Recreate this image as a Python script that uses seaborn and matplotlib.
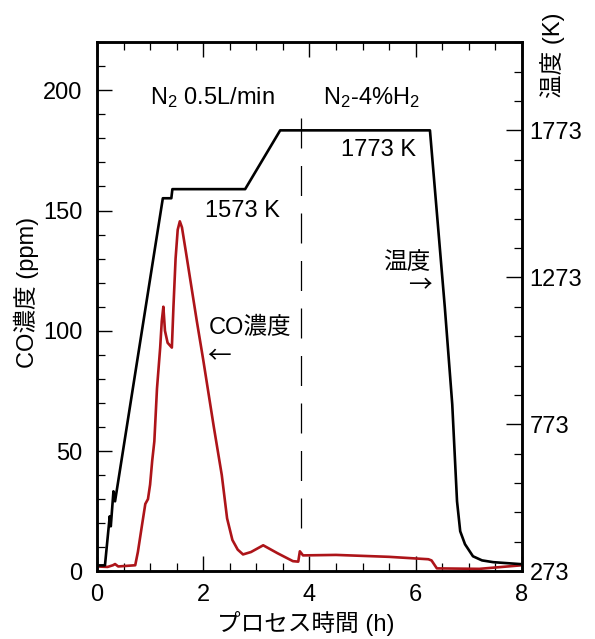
"""
プロセス時間に対する CO 濃度と温度の推移
"""
import matplotlib
matplotlib.use('Agg')
import matplotlib.pyplot as plt
from matplotlib.ticker import MultipleLocator, FixedLocator
import seaborn as sns

# 温度 (K) -- 右軸
temp_time = [0, 0.15, 0.24, 0.26, 0.31, 0.34, 1.24, 1.40, 1.42, 2.79, 3.45,
             6.27, 6.55, 6.69, 6.78, 6.84, 6.93, 7.08, 7.25, 7.46, 8.0]
temp_k = [293, 293, 460, 426, 545, 511, 1542, 1542, 1573, 1573, 1773,
          1773, 1171, 841, 511, 409, 365, 324, 310, 304, 297]

# CO 濃度 (ppm) -- 左軸
co_time = [0, 0.2, 0.3, 0.34, 0.4, 0.72, 0.77, 0.85, 0.91, 0.96, 1.0, 1.04,
           1.08, 1.13, 1.19, 1.22, 1.25, 1.28, 1.33, 1.41, 1.44, 1.48, 1.52,
           1.56, 1.60, 1.68, 1.78, 1.88, 2.0, 2.2, 2.35, 2.45, 2.55, 2.65,
           2.75, 2.9, 3.13, 3.4, 3.69, 3.79, 3.82, 3.88, 4.5, 5.5, 6.24,
           6.30, 6.40, 7.2, 8.0]
co_ppm = [2.0, 1.8, 2.5, 3.0, 2.0, 2.5, 8, 19.5, 28, 30, 36, 46,
          54, 76, 93, 104, 110, 100, 95, 93, 110, 130, 142,
          145.5, 143, 132, 118, 104, 88, 60, 40, 22, 13, 9,
          7, 8, 10.8, 7.5, 4.2, 4.0, 8.3, 6.6, 6.8, 6.0, 5.0,
          4.5, 1.2, 1.0, 2.5]

switch_time = 3.84          # N2 -> N2-4%H2 切替
temp_ticks = [273, 773, 1273, 1773]

sns.set_theme(style='ticks')
plt.rcParams['font.family'] = ['Liberation Sans', 'Noto Sans CJK JP']
plt.rcParams['mathtext.fontset'] = 'custom'
plt.rcParams['mathtext.rm'] = 'Liberation Sans'
plt.rcParams['mathtext.it'] = 'Liberation Sans:italic'
plt.rcParams['text.color'] = 'black'
plt.rcParams['axes.labelcolor'] = 'black'

FS = 17
RED = '#ad1419'

fig = plt.figure(figsize=(5.95, 6.39), dpi=100)
ax = fig.add_axes([0.163, 0.106, 0.714, 0.828])
ax2 = ax.twinx()

sns.lineplot(x=co_time, y=co_ppm, ax=ax, color=RED, lw=1.9, estimator=None)
sns.lineplot(x=temp_time, y=temp_k, ax=ax2, color='black', lw=1.9, estimator=None)

ax.vlines(switch_time, 18, 194, colors='black', lw=0.9, linestyles=(0, (24, 14)))

ax.set_xlim(0, 8)
ax.set_ylim(0, 220)
ax2.set_ylim(273, 2073)

ax.xaxis.set_major_locator(MultipleLocator(2))
ax.xaxis.set_minor_locator(MultipleLocator(0.5))
ax.yaxis.set_major_locator(FixedLocator([0, 50, 100, 150, 200]))
ax.yaxis.set_minor_locator(MultipleLocator(10))
ax2.yaxis.set_major_locator(FixedLocator(temp_ticks))
ax2.yaxis.set_minor_locator(MultipleLocator(100, offset=73))

ax.tick_params(axis='both', which='both', direction='in', top=True, right=False,
               labelsize=FS, colors='black')
ax.tick_params(axis='y', which='major', length=10.5, width=1.0, pad=10.5)
ax.tick_params(axis='x', which='major', length=10.5, width=1.0, pad=9)
ax.tick_params(which='minor', length=5.5, width=0.9)
ax2.tick_params(axis='y', which='both', direction='in', labelsize=FS, colors='black')
ax2.tick_params(axis='y', which='major', length=11.5, width=1.0, pad=5.5)
ax2.tick_params(axis='y', which='minor', length=5.5, width=0.9)

for a in (ax, ax2):
    for s in a.spines.values():
        s.set_linewidth(1.8)
        s.set_color('black')

ax.set_xlabel('プロセス時間 (h)', fontsize=FS, va='center')
ax.xaxis.set_label_coords(0.492, -0.099)
ax.set_ylabel('CO濃度 (ppm)', fontsize=FS, va='center')
ax.yaxis.set_label_coords(-0.167, 0.527)
ax2.set_ylabel('温度 (K)', fontsize=FS, rotation=90, va='center')
ax2.yaxis.set_label_coords(1.073, 0.975)

# 注記
ax.text(2.17, 197, r'N$_\mathrm{2}$ 0.5L/min', fontsize=FS, ha='center', va='center')
ax.text(5.16, 197, r'N$_\mathrm{2}$-4%H$_\mathrm{2}$', fontsize=FS, ha='center', va='center')
ax.text(2.73, 150, '1573 K', fontsize=FS, ha='center', va='center')
ax.text(5.31, 175, '1773 K', fontsize=FS, ha='center', va='center')
ax.text(5.84, 128, '温度', fontsize=FS, ha='center', va='center')
ax.text(6.08, 118.5, '→', fontsize=FS, ha='center', va='center',
        family=['Noto Sans CJK JP'])
ax.text(2.88, 101, 'CO濃度', fontsize=FS, ha='center', va='center')
ax.text(2.3, 89, '←', fontsize=FS, ha='center', va='center',
        family=['Noto Sans CJK JP'])

plt.savefig('out.png', dpi=100)
